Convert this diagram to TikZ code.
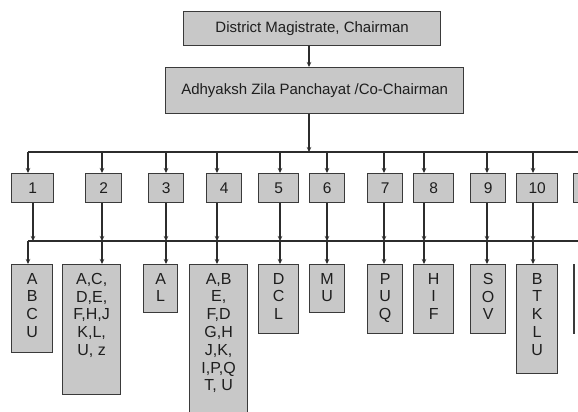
\documentclass[tikz,border=0pt]{standalone}
\usepackage{fontspec}
\setmainfont{Liberation Sans}
\usetikzlibrary{arrows.meta}
\definecolor{boxfill}{HTML}{C8C8C8}
\definecolor{boxline}{HTML}{3A3A3A}
\definecolor{conn}{HTML}{2C2C2C}
\definecolor{txt}{HTML}{1E1E1E}
\newcommand\colbox[3]{\begin{minipage}[t][#2pt][t]{#1pt}\centering\vspace*{8.5pt}#3\end{minipage}}
\begin{document}
\begin{tikzpicture}[x=1pt,y=-1pt,
  bx/.style={draw=boxline, fill=boxfill, line width=1.3pt, text=txt, inner sep=0pt},
  rowone/.style={bx, anchor=north west, minimum height=29pt, font=\fontsize{15.5}{18}\selectfont},
  rowtwo/.style={bx, anchor=north west, font=\fontsize{16}{17.8}\selectfont},
  arr/.style={draw=conn, line width=1.1pt, -{Stealth[length=5pt,width=4.5pt]}},
  ln/.style={draw=conn, line width=1.1pt}]
\useasboundingbox (0,0) rectangle (578,412);
\clip (0,0) rectangle (578,412);

% top boxes
\node[bx, anchor=north west, minimum width=257pt, minimum height=34pt, font=\fontsize{15}{18}\selectfont] (top) at (183,11) {District Magistrate, Chairman};
\node[bx, anchor=north west, minimum width=298pt, minimum height=46pt, font=\fontsize{15}{18}\selectfont] (sec) at (165,67) {Adhyaksh Zila Panchayat /Co-Chairman};

% row one
\node[rowone, minimum width=42pt] (r1) at (11,173) {1};
\node[rowone, minimum width=36pt] (r2) at (85,173) {2};
\node[rowone, minimum width=35pt] (r3) at (148,173) {3};
\node[rowone, minimum width=35pt] (r4) at (206,173) {4};
\node[rowone, minimum width=40pt] (r5) at (258,173) {5};
\node[rowone, minimum width=35pt] (r6) at (309,173) {6};
\node[rowone, minimum width=35pt] (r7) at (367,173) {7};
\node[rowone, minimum width=40pt] (r8) at (413,173) {8};
\node[rowone, minimum width=35pt] (r9) at (470,173) {9};
\node[rowone, minimum width=41pt] (r10) at (516,173) {10};
\node[rowone, minimum width=41pt] (r11) at (573,173) {};

% row two
\node[rowtwo] (s1) at (11,264) {\colbox{41}{88}{A\\B\\C\\U}};
\node[rowtwo] (s2) at (62,264) {\colbox{58}{130}{A,C,\\D,E,\\F,H,J\\K,L,\\U, z}};
\node[rowtwo] (s3) at (143,264) {\colbox{34}{48}{A\\L}};
\node[rowtwo] (s4) at (189,264) {\colbox{58}{170}{A,B\\E,\\F,D\\G,H\\J,K,\\I,P,Q\\T, U}};
\node[rowtwo] (s5) at (258,264) {\colbox{40}{69}{D\\C\\L}};
\node[rowtwo] (s6) at (309,264) {\colbox{35}{48}{M\\U}};
\node[rowtwo] (s7) at (367,264) {\colbox{35}{69}{P\\U\\Q}};
\node[rowtwo] (s8) at (413,264) {\colbox{40}{69}{H\\I\\F}};
\node[rowtwo] (s9) at (470,264) {\colbox{35}{69}{S\\O\\V}};
\node[rowtwo] (s10) at (516,264) {\colbox{41}{109}{B\\T\\K\\L\\U}};
\node[rowtwo] (s11) at (573,264) {\colbox{41}{69}{}};

% bus coordinates
\coordinate (j1) at (309,152);
\coordinate (t1) at (28,152);
\coordinate (d1) at (33,241);
\coordinate (b1) at (28,241);
\foreach \i/\x in {2/102,3/166,4/217,5/280,6/327,7/384,8/424,9/487,10/533,11/593}{
  \coordinate (t\i) at (\x,152);
  \coordinate (d\i) at (\x,241);
  \coordinate (b\i) at (\x,241);
}
\coordinate (e1) at (600,152);
\coordinate (e2) at (600,241);

% connectors
\draw[arr] (top.south -| j1) -- (sec.north -| j1);
\draw[arr] (sec.south -| j1) -- (j1);
\draw[ln] (t1) -- (e1);
\draw[ln] (b1) -- (e2);
\foreach \i in {1,...,11}{
  \draw[arr] (t\i) -- (t\i |- r\i.north);
  \draw[arr] (r\i.south -| d\i) -- (d\i);
  \draw[arr] (b\i) -- (b\i |- s\i.north);
}
\end{tikzpicture}
\end{document}
